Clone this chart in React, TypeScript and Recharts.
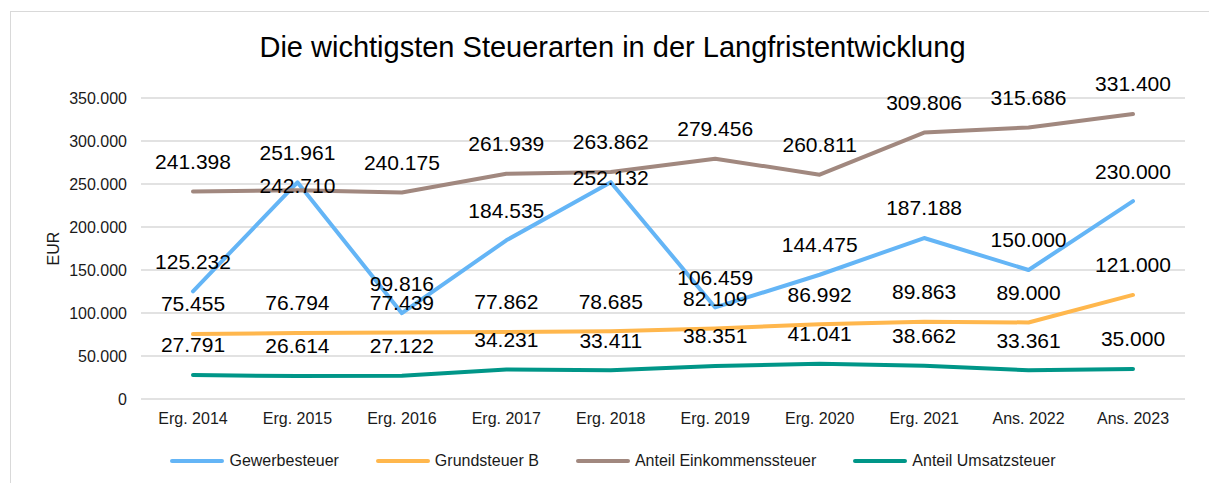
import React from 'react';
import { LineChart, Line, XAxis, YAxis, CartesianGrid, Legend, LabelList } from 'recharts';

const categories = ['Erg. 2014', 'Erg. 2015', 'Erg. 2016', 'Erg. 2017', 'Erg. 2018', 'Erg. 2019', 'Erg. 2020', 'Erg. 2021', 'Ans. 2022', 'Ans. 2023'];
const gewerbesteuer = [125232, 251961, 99816, 184535, 252132, 106459, 144475, 187188, 150000, 230000];
const grundsteuerB = [75455, 76794, 77439, 77862, 78685, 82109, 86992, 89863, 89000, 121000];
const einkommensteuer = [241398, 242710, 240175, 261939, 263862, 279456, 260811, 309806, 315686, 331400];
const umsatzsteuer = [27791, 26614, 27122, 34231, 33411, 38351, 41041, 38662, 33361, 35000];
const yTicks = [0, 50000, 100000, 150000, 200000, 250000, 300000, 350000];

const TITLE = 'Die wichtigsten Steuerarten in der Langfristentwicklung';
const FONT = '"Liberation Sans", Arial, sans-serif';

const series = [
  { key: 'gew', name: 'Gewerbesteuer', color: '#64B5F6', values: gewerbesteuer },
  { key: 'grund', name: 'Grundsteuer B', color: '#FFB74D', values: grundsteuerB },
  { key: 'eink', name: 'Anteil Einkommenssteuer', color: '#A1887F', values: einkommensteuer },
  { key: 'ums', name: 'Anteil Umsatzsteuer', color: '#009688', values: umsatzsteuer },
];

const data = categories.map((c, i) => {
  const row: Record<string, any> = { cat: c };
  series.forEach((s) => { row[s.key] = s.values[i]; });
  return row;
});

const fmt = (v: number) => String(Math.round(v)).replace(/\B(?=(\d{3})+(?!\d))/g, '.');

// A label is dropped onto its line when a higher series' label would collide with it.
const COLLIDE = 15000;
const makeLabel = (key: string) => (props: any) => {
  const { x, y, value, index } = props;
  const collides = series.some((o) => o.key !== key && o.values[index] > value && o.values[index] - value < COLLIDE);
  const ly = collides ? y - 5 : y - 30;
  return (
    <text x={x} y={ly} dy="0.35em" textAnchor="middle" fontSize={21} fontFamily={FONT} fill="#000">
      {fmt(value)}
    </text>
  );
};

const LegendContent = () => (
  <div style={{ display: 'flex', justifyContent: 'center', alignItems: 'center', gap: 36, fontFamily: FONT, fontSize: 16, color: '#1a1a1a' }}>
    {series.map((s) => (
      <div key={s.key} style={{ display: 'flex', alignItems: 'center' }}>
        <svg width={56} height={10} style={{ marginRight: 4 }}>
          <line x1={3} y1={5} x2={53} y2={5} stroke={s.color} strokeWidth={4} strokeLinecap="round" />
        </svg>
        <span>{s.name}</span>
      </div>
    ))}
  </div>
);

const W = 1203;
const H = 472;

export default function App() {
  return (
    <div style={{ position: 'absolute', left: 10, top: 11, width: W, height: H, border: '1px solid #d9d9d9', background: '#fff' }}>
      <div style={{ position: 'absolute', top: 19, left: 0, width: W, textAlign: 'center', fontFamily: FONT, fontSize: 29, color: '#000', whiteSpace: 'nowrap' }}>
        {TITLE}
      </div>
      <LineChart width={W} height={H} data={data} margin={{ top: 86, right: 29, bottom: 55, left: 60 }}>
        <CartesianGrid vertical={false} stroke="#d9d9d9" strokeWidth={1.5} />
        <XAxis
          dataKey="cat"
          axisLine={false}
          tickLine={false}
          tickSize={0}
          tickMargin={14}
          height={30}
          padding={{ left: 52, right: 52 }}
          interval={0}
          tick={{ fontSize: 16, fontFamily: FONT, fill: '#1a1a1a' }}
        />
        <YAxis
          domain={[0, 350000]}
          ticks={yTicks}
          width={70}
          axisLine={false}
          tickLine={false}
          tickSize={0}
          tickMargin={14}
          tickFormatter={fmt}
          tick={{ fontSize: 16, fontFamily: FONT, fill: '#1a1a1a' }}
          label={{
            content: (p: any) => {
              const vb = p.viewBox || {};
              const cx = vb.x - 18;
              const cy = vb.y + vb.height / 2;
              return (
                <text x={cx} y={cy} transform={`rotate(-90 ${cx} ${cy})`} textAnchor="middle" dy="0.35em" fontSize={16} fontFamily={FONT} fill="#1a1a1a">
                  EUR
                </text>
              );
            },
          }}
        />
        <Legend
          layout="horizontal"
          verticalAlign="middle"
          align="center"
          wrapperStyle={{ position: 'absolute', top: 440, left: 0, width: W }}
          content={() => <LegendContent />}
        />
        {series.map((s) => (
          <Line
            key={s.key}
            type="linear"
            dataKey={s.key}
            name={s.name}
            stroke={s.color}
            strokeWidth={4}
            strokeLinecap="round"
            strokeLinejoin="round"
            dot={false}
            activeDot={false}
            isAnimationActive={false}
          >
            <LabelList dataKey={s.key} content={makeLabel(s.key)} />
          </Line>
        ))}
      </LineChart>
    </div>
  );
}
